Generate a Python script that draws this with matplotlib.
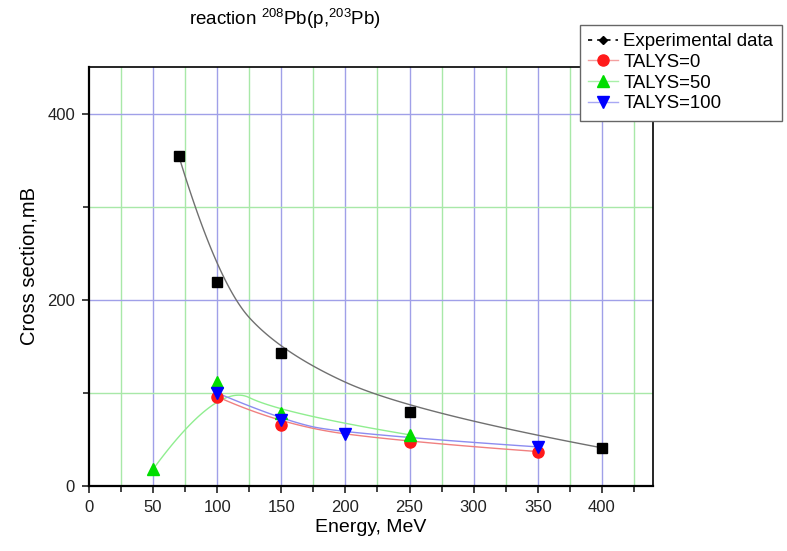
import numpy as np
import matplotlib
matplotlib.use("Agg")
import matplotlib.pyplot as plt
from matplotlib.lines import Line2D

plt.rcParams['font.family'] = ['Liberation Sans', 'DejaVu Sans']
plt.rcParams['mathtext.fontset'] = 'custom'
plt.rcParams['mathtext.rm'] = 'Liberation Sans'
plt.rcParams['mathtext.default'] = 'regular'

# data
exp_energy = [70, 100, 150, 250, 400]
exp_xs = [355, 219, 143, 80, 41]

t0_energy = [100, 150, 250, 350]
t0_xs = [96, 65, 47, 37]

t50_energy = [50, 100, 150, 250]
t50_xs = [18, 112, 78, 55]

t100_energy = [100, 150, 200, 350]
t100_xs = [100, 71, 56, 42]

x_ticks = [0, 50, 100, 150, 200, 250, 300, 350, 400]
y_ticks = [0, 200, 400]


def bspline2(xs, ys, n=40):
    # clamped quadratic B-spline using the points as control polygon
    p = np.column_stack([xs, ys]).astype(float)
    m = len(p) - 1
    start = p[0]
    out = [start]
    t = np.linspace(0, 1, n)[1:, None]
    for i in range(1, m):
        end = (p[i] + p[i + 1]) / 2 if i < m - 1 else p[m]
        seg = (1 - t) ** 2 * start + 2 * (1 - t) * t * p[i] + t ** 2 * end
        out.extend(seg)
        start = end
    out = np.array(out)
    return out[:, 0], out[:, 1]


fig = plt.figure(figsize=(7.87, 5.51), dpi=100)
ax = fig.add_axes([0.113, 0.118, 0.717, 0.760])

grid_blue = '#a0a0e8'
grid_green = '#a8e8a8'
for x in range(25, 440, 50):
    ax.axvline(x, color=grid_green, lw=1, zorder=0)
for x in range(50, 440, 50):
    ax.axvline(x, color=grid_blue, lw=1, zorder=0)
for y in [100, 300]:
    ax.axhline(y, color=grid_green, lw=1, zorder=0)
for y in [200, 400]:
    ax.axhline(y, color=grid_blue, lw=1, zorder=0)

series = [
    (exp_energy, exp_xs, '#707070', 'k', 's', 6.5),
    (t0_energy, t0_xs, '#f08080', '#ff1a1a', 'o', 8),
    (t50_energy, t50_xs, '#90ee90', '#00dd00', '^', 8.5),
    (t100_energy, t100_xs, '#8c8cf0', '#0000ff', 'v', 8.5),
]
for ex, ey, lc, mc, mk, ms in series:
    cx, cy = bspline2(ex, ey)
    ax.plot(cx, cy, color=lc, lw=1, zorder=2)
    ax.plot(ex, ey, ls='none', marker=mk, color=mc, ms=ms, zorder=3)

ax.set_xlim(0, 440)
ax.set_ylim(0, 450)
ax.set_xticks(x_ticks)
ax.set_xticks(range(25, 440, 50), minor=True)
ax.set_yticks(y_ticks)
ax.set_yticks([100, 300], minor=True)
ax.tick_params(which='both', direction='out', labelsize=12, width=1.2, colors='#222222')
ax.tick_params(which='major', length=5, pad=5)
ax.tick_params(which='minor', length=4)
for s in ['left', 'bottom']:
    ax.spines[s].set_linewidth(1.6)
for s in ['top', 'right']:
    ax.spines[s].set_linewidth(1.2)

ax.set_xlabel('Energy, MeV', fontsize=14, labelpad=3)
ax.set_ylabel('Cross section,mB', fontsize=14.5)
ax.yaxis.set_label_coords(-0.09, 0.526)
fig.text(0.362, 0.966, r'reaction $^{208}$Pb(p,$^{203}$Pb)', fontsize=13.5,
         ha='center', va='center')

handles = [
    Line2D([], [], color='k', ls=(0, (2.5, 3)), lw=1.2, marker='D', ms=4),
    Line2D([], [], color='#f4a0a0', lw=1, marker='o', mfc='#ff1a1a', mec='#ff1a1a', ms=8),
    Line2D([], [], color='#a8f0a8', lw=1, marker='^', mfc='#00dd00', mec='#00dd00', ms=8.5),
    Line2D([], [], color='#a8a8f4', lw=1, marker='v', mfc='#0000ff', mec='#0000ff', ms=8.5),
]
labels = ['Experimental data', 'TALYS=0', 'TALYS=50', 'TALYS=100']
leg = fig.legend(handles, labels, loc='upper right', bbox_to_anchor=(0.998, 0.962),
                 fontsize=13.4, fancybox=False, framealpha=1, edgecolor='#666666',
                 handlelength=1.6, handletextpad=0.3, labelspacing=0.2,
                 borderpad=0.45, borderaxespad=0.2)
leg.get_frame().set_linewidth(1)

fig.savefig('out.png', dpi=100)
